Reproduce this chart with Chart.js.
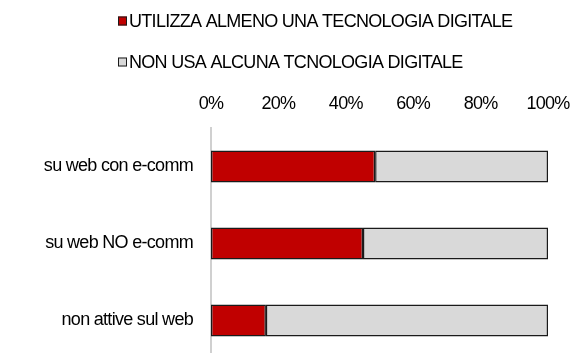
<!DOCTYPE html>
<html>
<head>
<meta charset="utf-8">
<script src="https://cdn.jsdelivr.net/npm/chart.js@4"></script>
<style>
  html, body { margin: 0; padding: 0; background: #fff; overflow: hidden; }
  #wrap { width: 571px; height: 360px; }
  canvas { display: block; }
</style>
</head>
<body>
<div id="wrap"><canvas id="tecnoChart" width="571" height="360"></canvas></div>
<script>
// Imprese per presenza sul web
const categories = ['su web con e-comm', 'su web NO e-comm', 'non attive sul web'];
const seriesNames = ['UTILIZZA ALMENO UNA TECNOLOGIA DIGITALE', 'NON USA ALCUNA TCNOLOGIA DIGITALE'];
// quote percentuali (somma 100)
const usaTecnologia = [48.7, 45.1, 16.3];
const nonUsaTecnologia = [51.3, 54.9, 83.7];
const tickValues = [0, 20, 40, 60, 80, 100];

const FONT = "'Liberation Sans', Arial, sans-serif";

// legenda su due righe, allineata a sinistra
const legendaSinistra = {
    id: 'legendaSinistra',
    beforeDraw(chart) {
        chart.ctx.letterSpacing = '-0.7px';
    },
    afterDraw(chart) {
        const ctx = chart.ctx;
        const rows = [21, 62];
        ctx.save();
        ctx.letterSpacing = '-0.7px';
        ctx.font = '18px ' + FONT;
        ctx.textBaseline = 'middle';
        ctx.textAlign = 'left';
        chart.data.datasets.forEach((ds, i) => {
            const y = rows[i];
            ctx.fillStyle = ds.backgroundColor;
            ctx.fillRect(118, y - 4.5, 9, 9);
            ctx.strokeStyle = '#1a1a1a';
            ctx.lineWidth = 1;
            ctx.strokeRect(118.5, y - 4, 8, 8);
            ctx.fillStyle = '#000';
            ctx.fillText(ds.label, 129, y + 1);
        });
        ctx.restore();
    }
};

const ctx = document.getElementById('tecnoChart').getContext('2d');
new Chart(ctx, {
    type: 'bar',
    data: {
        labels: categories,
        datasets: [{
            label: seriesNames[0],
            data: usaTecnologia,
            backgroundColor: '#C00000',
            borderColor: '#1a1a1a',
            borderWidth: 1.5,
            borderSkipped: false
        }, {
            label: seriesNames[1],
            data: nonUsaTecnologia,
            backgroundColor: '#D9D9D9',
            borderColor: '#1a1a1a',
            borderWidth: 1.5,
            borderSkipped: false
        }]
    },
    options: {
        indexAxis: 'y',
        responsive: false,
        animation: false,
        categoryPercentage: 1,
        barPercentage: 0.415,
        layout: {
            padding: { top: 92, right: 23, bottom: 1, left: 0 }
        },
        plugins: {
            legend: { display: false },
            tooltip: { enabled: false }
        },
        scales: {
            x: {
                position: 'top',
                stacked: true,
                min: 0,
                max: 100,
                afterBuildTicks(scale) {
                    scale.ticks = tickValues.map(v => ({ value: v }));
                },
                afterFit(scale) {
                    scale.height = 36;
                    scale.paddingLeft = 0;
                    scale.paddingRight = 0;
                },
                ticks: {
                    padding: 13,
                    maxRotation: 0,
                    color: '#000',
                    font: { family: FONT, size: 18 },
                    callback: v => v + '%'
                },
                grid: { display: false, drawTicks: false },
                border: { display: false }
            },
            y: {
                stacked: true,
                afterFit(scale) {
                    scale.width = 211;
                    scale.paddingTop = 0;
                    scale.paddingBottom = 0;
                },
                ticks: {
                    padding: 18,
                    color: '#000',
                    font: { family: FONT, size: 18 }
                },
                grid: { display: false, drawTicks: false },
                border: { display: true, color: '#D0D0D0', width: 2 }
            }
        }
    },
    plugins: [legendaSinistra]
});
</script>
</body>
</html>
